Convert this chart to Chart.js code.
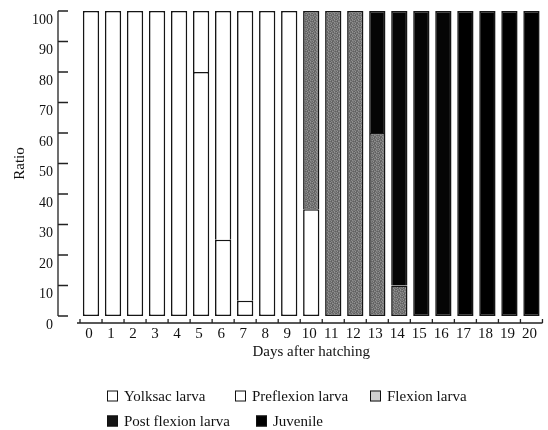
<!DOCTYPE html>
<html>
<head>
<meta charset="utf-8">
<script src="https://cdn.jsdelivr.net/npm/chart.js@4.4.0/dist/chart.umd.min.js"></script>
<style>
    html, body { margin: 0; padding: 0; background: #fff; }
    #wrap { position: relative; width: 548px; height: 430px; }
    #legend { position: absolute; left: 0; top: 0; width: 548px; height: 430px; pointer-events: none;
              font: 15px "Liberation Serif", "Times New Roman", serif; color: #111; }
    .item { position: absolute; display: flex; align-items: center; white-space: nowrap; transform: translateY(-50%); }
    .box { width: 9px; height: 9px; border: 1px solid #111; margin-right: 6px; }
</style>
</head>
<body>
<div id="wrap">
    <canvas id="chart" width="548" height="430"></canvas>
    <div id="legend"></div>
</div>
<script>
const days = ['0', '1', '2', '3', '4', '5', '6', '7', '8', '9', '10',
              '11', '12', '13', '14', '15', '16', '17', '18', '19', '20'];

const yolksac     = [100, 100, 100, 100, 100, 80, 25, 5, 0, 0, 0, 0, 0, 0, 0, 0, 0, 0, 0, 0, 0];
const preflexion  = [0, 0, 0, 0, 0, 20, 75, 95, 100, 100, 35, 0, 0, 0, 0, 0, 0, 0, 0, 0, 0];
const flexion     = [0, 0, 0, 0, 0, 0, 0, 0, 0, 0, 65, 100, 100, 60, 10, 0, 0, 0, 0, 0, 0];
const postflexion = [0, 0, 0, 0, 0, 0, 0, 0, 0, 0, 0, 0, 0, 40, 90, 100, 100, 0, 0, 0, 0];
const juvenile    = [0, 0, 0, 0, 0, 0, 0, 0, 0, 0, 0, 0, 0, 0, 0, 0, 0, 100, 100, 100, 100];

const seriesNames = ['Yolksac larva', 'Preflexion larva', 'Flexion larva', 'Post flexion larva', 'Juvenile'];
const yMax = 100;
const yStep = 10;

// legend placement (box left, row centre)
const legendSpots = [[107, 396], [235, 396], [370, 396], [107, 421], [256, 421]];
const legendFills = ['#fff', '#fff', '#cfcfcf', '#151515', '#000'];

const serif = '"Liberation Serif", "Times New Roman", serif';

// stippled grey like the print screen
function speckle() {
    const shades = [
        '7e6c62906e78',
        '6089746a9465',
        '926679608578',
        '6f5e90836e60',
        '83786c64907a',
        '6694606f7a7e'
    ];
    const c = document.createElement('canvas');
    c.width = 6;
    c.height = 6;
    const g = c.getContext('2d');
    shades.forEach((row, j) => {
        for (let i = 0; i < 6; i++) {
            const v = row.substr(i * 2, 2);
            g.fillStyle = '#' + v + v + v;
            g.fillRect(i, j, 1, 1);
        }
    });
    return g.createPattern(c, 'repeat');
}

// y axis set off to the left, x axis line drawn below the bars
const axisLines = {
    id: 'axisLines',
    afterDatasetsDraw(chart) {
        const { ctx, chartArea, scales: { x, y } } = chart;
        ctx.save();
        ctx.strokeStyle = '#222';
        ctx.lineWidth = 1.3;
        ctx.beginPath();

        const axisX = chartArea.left - 22;
        ctx.moveTo(axisX, y.getPixelForValue(yMax));
        ctx.lineTo(axisX, y.getPixelForValue(0));
        y.ticks.forEach(t => {
            const py = y.getPixelForValue(t.value);
            ctx.moveTo(axisX, py);
            ctx.lineTo(axisX + 10, py);
        });

        const axisY = chartArea.bottom + 7;
        const step = x.getPixelForValue(1) - x.getPixelForValue(0);
        ctx.moveTo(chartArea.left - 3, axisY);
        ctx.lineTo(chartArea.right, axisY);
        for (let i = 0; i <= days.length; i++) {
            const px = x.getPixelForValue(0) - step / 2 + i * step;
            ctx.moveTo(px, axisY);
            ctx.lineTo(px, axisY - 4);
        }
        ctx.stroke();
        ctx.restore();
    }
};

const fills = ['#ffffff', '#ffffff', speckle(), '#050505', '#000000'];
const series = [yolksac, preflexion, flexion, postflexion, juvenile];

// only the lowest segment of a bar keeps its bottom edge, so shared edges stay single
function skipEdge(ctx) {
    let below = 0;
    for (let k = 0; k < ctx.datasetIndex; k++) below += series[k][ctx.dataIndex];
    return below > 0 ? 'bottom' : false;
}

const chart = new Chart(document.getElementById('chart'), {
    type: 'bar',
    data: {
        labels: days,
        datasets: series.map((values, i) => ({
            label: seriesNames[i],
            data: values,
            backgroundColor: fills[i],
            borderColor: '#151515',
            borderWidth: 1.6,
            borderSkipped: skipEdge,
            barPercentage: 0.74,
            categoryPercentage: 1
        }))
    },
    options: {
        responsive: false,
        animation: false,
        layout: { padding: { top: 11, right: 2, left: 0, bottom: 64 } },
        scales: {
            x: {
                stacked: true,
                grid: { display: false, drawTicks: false },
                border: { display: false },
                ticks: {
                    color: '#111',
                    font: { family: serif, size: 15 },
                    padding: 9,
                    maxRotation: 0,
                    autoSkip: false,
                    labelOffset: -2
                },
                title: {
                    display: true,
                    text: 'Days after hatching',
                    color: '#111',
                    font: { family: serif, size: 15 },
                    padding: { top: 0, bottom: 5 }
                },
                afterFit(scale) { scale.height = 50; }
            },
            y: {
                stacked: true,
                min: 0,
                max: yMax,
                grid: { display: false, drawTicks: false },
                border: { display: false },
                ticks: {
                    stepSize: yStep,
                    color: '#111',
                    font: { family: serif, size: 14 },
                    padding: 27,
                    labelOffset: 9
                },
                title: {
                    display: true,
                    text: 'Ratio',
                    color: '#111',
                    font: { family: serif, size: 15 },
                    padding: { top: 11, bottom: 0 }
                },
                afterFit(scale) {
                    scale.width = 80;
                    scale.paddingTop = 0;
                    scale.paddingBottom = 0;
                }
            }
        },
        plugins: {
            legend: { display: false },
            tooltip: { enabled: false }
        }
    },
    plugins: [axisLines]
});

// legend as text below the plot
const legendEl = document.getElementById('legend');
chart.data.datasets.forEach((ds, i) => {
    const item = document.createElement('div');
    item.className = 'item';
    item.style.left = legendSpots[i][0] + 'px';
    item.style.top = legendSpots[i][1] + 'px';
    const box = document.createElement('span');
    box.className = 'box';
    box.style.background = legendFills[i];
    const txt = document.createElement('span');
    txt.textContent = ds.label;
    item.appendChild(box);
    item.appendChild(txt);
    legendEl.appendChild(item);
});
</script>
</body>
</html>
